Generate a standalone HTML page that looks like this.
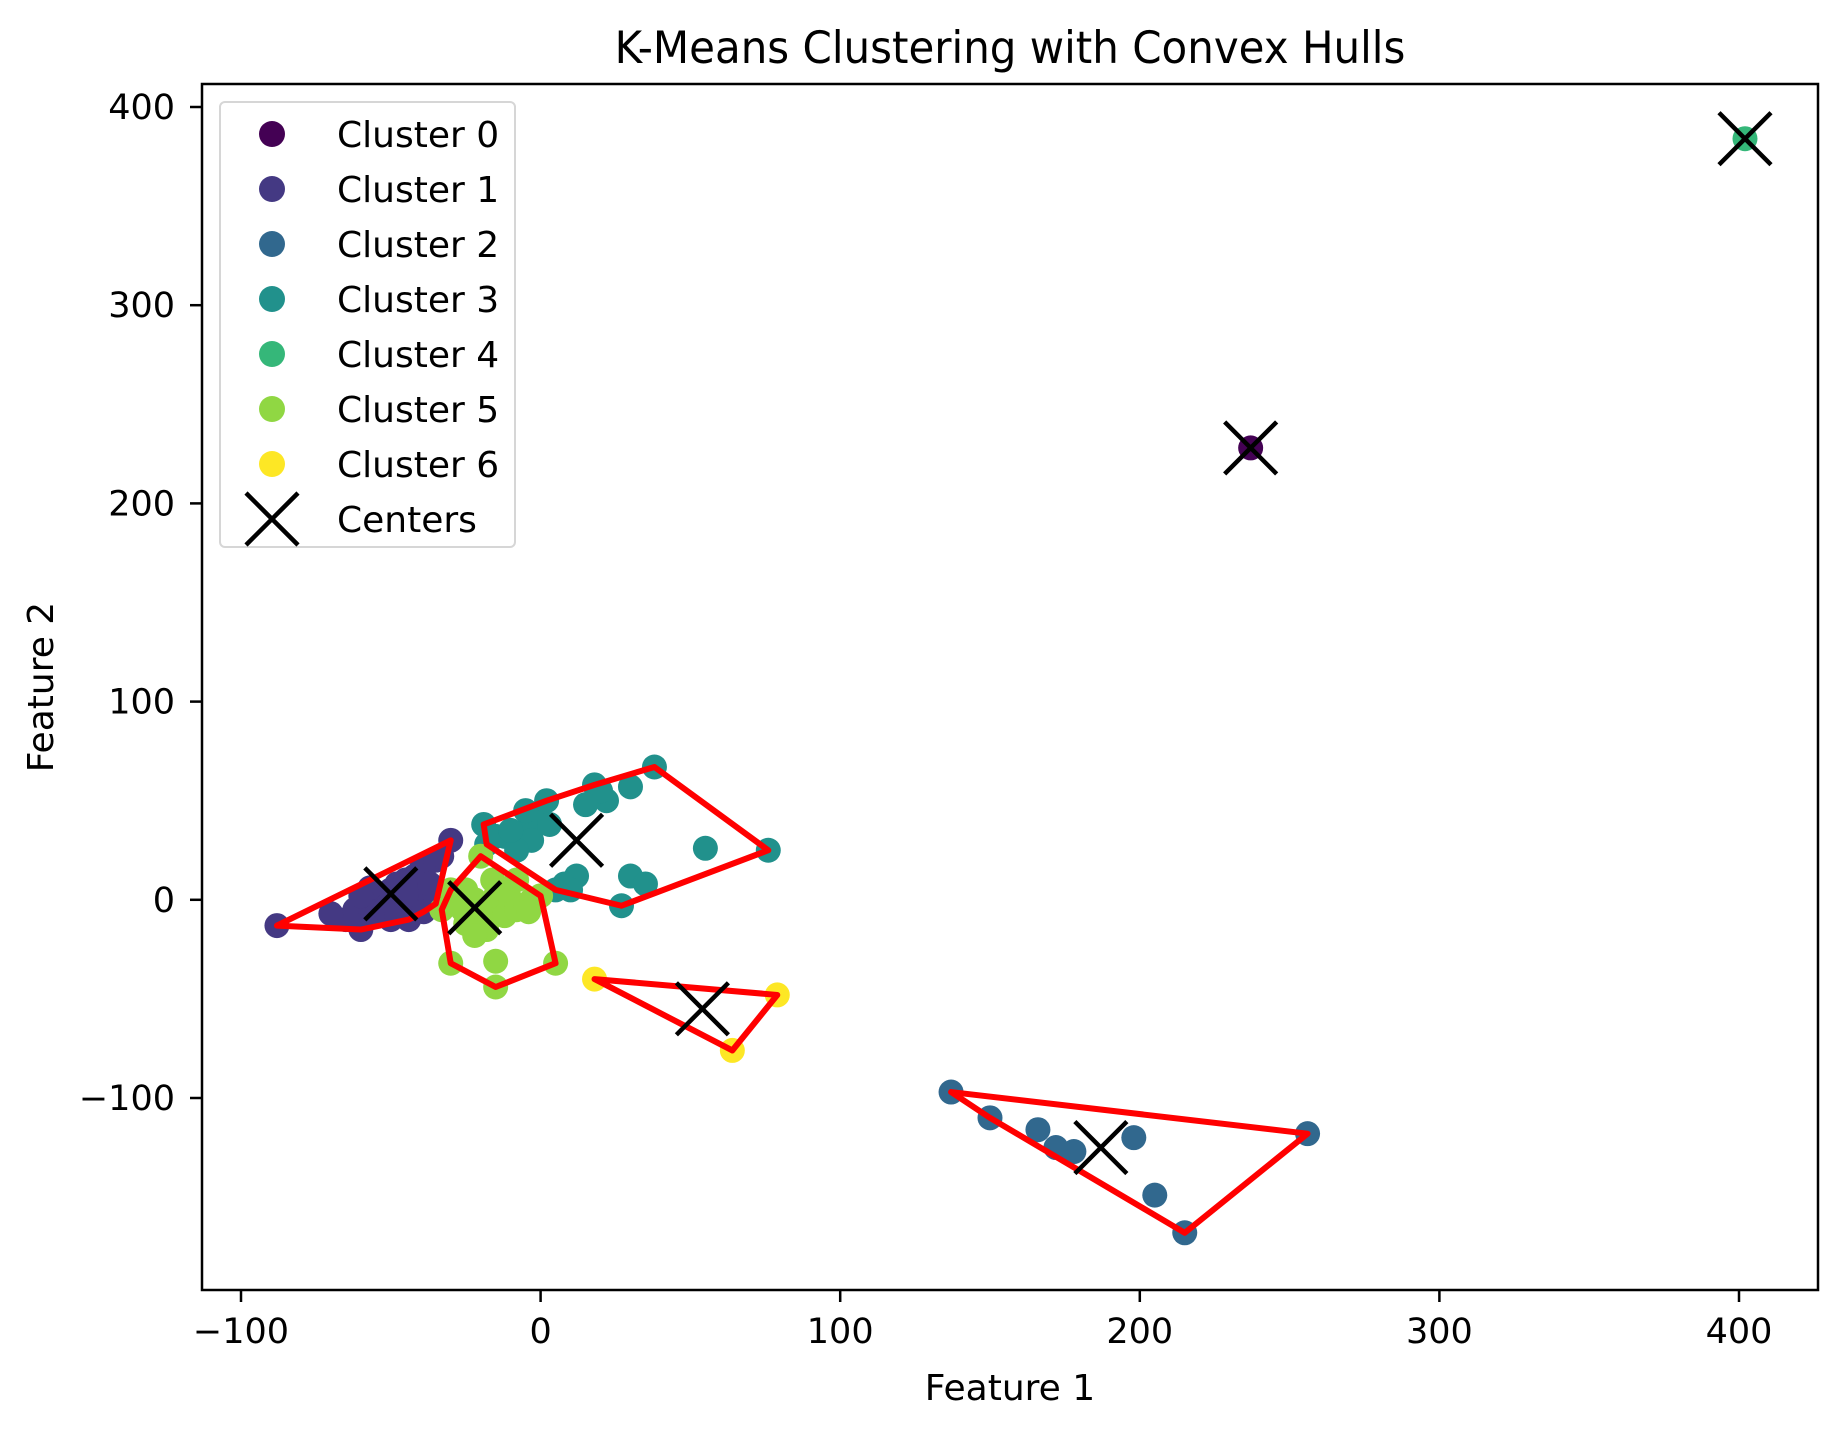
<!DOCTYPE html>
<html><head><meta charset="utf-8"><style>
html,body{margin:0;padding:0;background:#fff;}
svg text{font-family:"DejaVu Sans","Liberation Sans",sans-serif;fill:#000;}
</style></head><body>
<svg id="chart" width="1843" height="1430" viewBox="0 0 1843 1430" xmlns="http://www.w3.org/2000/svg">
<rect width="1843" height="1430" fill="#fff"/>
<text x="1010" y="60" font-size="42" text-anchor="middle" transform="translate(1010,0) scale(1,1.05) translate(-1010,0)">K-Means Clustering with Convex Hulls</text>
<g id="plot"></g>
<rect x="202" y="84" width="1616" height="1206" fill="none" stroke="#000" stroke-width="2.5"/>
<g id="ticks"></g>
<text x="1010" y="1400" font-size="36" text-anchor="middle">Feature 1</text>
<text x="0" y="0" font-size="36" text-anchor="middle" transform="translate(53,687) rotate(-90)">Feature 2</text>
<g id="legend"></g>
</svg>
<script>
const xTicks=[-100,0,100,200,300,400];
const yTicks=[-100,0,100,200,300,400];
const xTickLabels=["\u2212100","0","100","200","300","400"];
const yTickLabels=["\u2212100","0","100","200","300","400"];
const clusterNames=["Cluster 0","Cluster 1","Cluster 2","Cluster 3","Cluster 4","Cluster 5","Cluster 6"];
const clusterColors=["#440154","#443983","#31688e","#21918c","#35b779","#90d743","#fde725"];
const cluster0=[[237,228]];
const cluster1=[[-88,-13],[-30,30],[-60,-15],[-65,-10],[-70,-7],[-62,-5],[-58,-2],[-55,0],[-52,3],[-50,5],[-48,8],[-45,10],[-42,12],[-40,15],[-38,18],[-35,20],[-44,-10],[-50,-10],[-55,-8],[-46,-3],[-42,0],[-40,5],[-37,8],[-45,2],[-52,-5],[-48,-8],[-39,-6],[-35,-2],[-57,6],[-60,2],[-33,22]];
const cluster2=[[137,-97],[150,-110],[166,-116],[172,-125],[178,-127],[198,-120],[205,-149],[215,-168],[256,-118]];
const cluster3=[[38,67],[76,25],[27,-3],[-19,38],[-18,28],[2,50],[18,58],[22,50],[20,55],[30,57],[55,26],[30,12],[35,8],[12,12],[8,8],[5,5],[-12,32],[-5,35],[0,40],[-3,30],[3,38],[-15,32],[-8,25],[15,48],[10,5],[-10,35],[-5,45]];
const cluster4=[[402,384]];
const cluster5=[[-30,-32],[-15,-44],[-15,-31],[5,-32],[-20,22],[-28,-2],[-25,5],[-22,0],[-18,-5],[-15,2],[-12,-8],[-10,0],[-8,-5],[-5,-3],[-3,0],[-20,-10],[-25,-12],[-18,-15],[-30,5],[-12,5],[-8,10],[-4,-6],[0,2],[-16,10],[-26,-5],[-22,-18],[-33,-5]];
const cluster6=[[18,-40],[79,-48],[64,-76]];
const centersX=[237,-50,187,12,402,-22,54];
const centersY=[228,3,-125,30,384,-4,-55];

const NS="http://www.w3.org/2000/svg";
function sx(v){return 540.6+v*2.996;}
function sy(v){return 107+(400-v)*1.982;}
function mk(tag,attrs,parent){const e=document.createElementNS(NS,tag);for(const k in attrs)e.setAttribute(k,attrs[k]);parent.appendChild(e);return e;}
function hull(pts){
  const p=pts.slice().sort((a,b)=>a[0]-b[0]||a[1]-b[1]);
  if(p.length<3)return p;
  const cr=(o,a,b)=>(a[0]-o[0])*(b[1]-o[1])-(a[1]-o[1])*(b[0]-o[0]);
  const lo=[],up=[];
  for(const q of p){while(lo.length>=2&&cr(lo[lo.length-2],lo[lo.length-1],q)<=0)lo.pop();lo.push(q);}
  for(let i=p.length-1;i>=0;i--){const q=p[i];while(up.length>=2&&cr(up[up.length-2],up[up.length-1],q)<=0)up.pop();up.push(q);}
  up.pop();lo.pop();return lo.concat(up);
}
const plot=document.getElementById('plot');
const clusters=[cluster0,cluster1,cluster2,cluster3,cluster4,cluster5,cluster6];
clusters.forEach((pts,ci)=>{
  const g=mk('g',{},plot);
  
  
  pts.forEach(p=>{
    const c=mk('circle',{cx:sx(p[0]),cy:sy(p[1]),r:12.5,fill:clusterColors[ci]},g);
    
    
  });
});
clusters.forEach((pts,ci)=>{
  if(pts.length<3)return;
  const h=hull(pts);
  const pl=mk('polygon',{points:h.map(p=>sx(p[0])+','+sy(p[1])).join(' '),fill:'none',stroke:'#ff0000','stroke-width':6,'stroke-linejoin':'round'},plot);
  
  
});
centersX.forEach((cx,i)=>{
  const X=sx(cx),Y=sy(centersY[i]),s=26;
  const p=mk('path',{d:`M${X-s},${Y-s}L${X+s},${Y+s}M${X-s},${Y+s}L${X+s},${Y-s}`,stroke:'#000','stroke-width':4.5,fill:'none'},plot);
  
  
});
const ticks=document.getElementById('ticks');
xTicks.forEach((v,i)=>{
  const l=mk('line',{x1:sx(v),x2:sx(v),y1:1290,y2:1302,stroke:'#000','stroke-width':2.5},ticks);
  
  
  const t=mk('text',{x:sx(v),y:1343,'font-size':35,'text-anchor':'middle'},ticks);
  t.textContent=xTickLabels[i];
  
  
});
yTicks.forEach((v,i)=>{
  const l=mk('line',{x1:190,x2:202,y1:sy(v),y2:sy(v),stroke:'#000','stroke-width':2.5},ticks);
  
  
  const t=mk('text',{x:175,y:sy(v)+12,'font-size':35,'text-anchor':'end'},ticks);
  t.textContent=yTickLabels[i];
  
  
});
const lg=document.getElementById('legend');
const box=mk('rect',{x:220,y:102,width:295,height:445,rx:5,fill:'#fff','fill-opacity':0.8,stroke:'#d6d6d6','stroke-width':2},lg);


clusterNames.concat(['Centers']).forEach((n,i)=>{
  const y=134+i*55;
  const g=mk('g',{},lg);
  
  
  if(i<7){mk('circle',{cx:272,cy:y,r:13,fill:clusterColors[i]},g);}
  else{mk('path',{d:`M246,${y-26}L298,${y+26}M246,${y+26}L298,${y-26}`,stroke:'#000','stroke-width':4.5},g);}
  const t=mk('text',{x:337,y:y+13,'font-size':36},g);
  t.textContent=n;
});
</script>
</body></html>
